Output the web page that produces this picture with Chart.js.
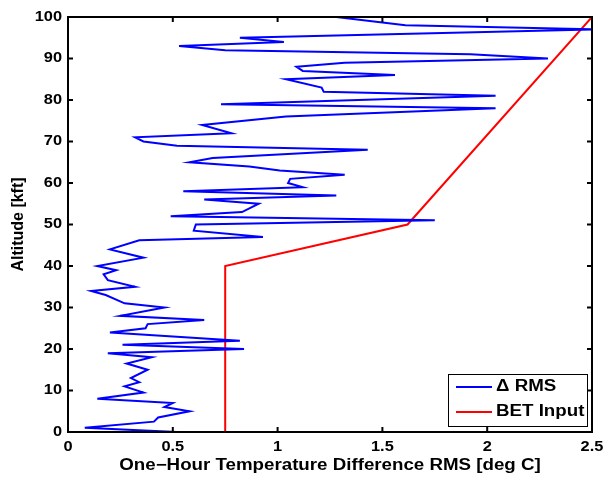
<!DOCTYPE html>
<html>
<head>
<meta charset="utf-8">
<script src="https://cdn.jsdelivr.net/npm/chart.js@4/dist/chart.umd.min.js"></script>
<style>
  html, body { margin: 0; padding: 0; background: #fff; }
  #wrap { width: 605px; height: 482px; }
</style>
</head>
<body>
<div id="wrap"><canvas id="rmsChart" width="605" height="482"></canvas></div>
<script>
// Delta RMS profile vs altitude
const rmsAlt = [0, 1, 2.5, 3.5, 5, 6, 7, 8, 9.5, 11, 12, 13, 15, 16.5, 18, 19, 20, 21, 22, 24,
  25, 26, 27, 28, 30, 31, 33, 34, 35, 36.6, 38, 39, 40, 42, 44, 46.2, 47, 48.5, 50, 51,
  52, 53, 55, 56, 57, 58, 59, 60, 61, 62, 63, 64, 65, 66, 68, 69, 70, 71, 72, 74,
  76, 78, 79, 81, 82, 83, 85, 86, 87, 88, 89, 90, 91, 92, 93, 94, 95, 97, 98, 100];
const rmsVal = [0.52, 0.08, 0.41, 0.43, 0.58, 0.46, 0.50, 0.14, 0.36, 0.27, 0.34, 0.30, 0.38, 0.28, 0.40, 0.19, 0.84, 0.26, 0.82, 0.20,
  0.37, 0.38, 0.65, 0.25, 0.46, 0.27, 0.18, 0.11, 0.32, 0.19, 0.17, 0.23, 0.14, 0.36, 0.20, 0.34, 0.93, 0.60, 0.61, 1.75,
  0.49, 0.83, 0.91, 0.65, 1.28, 0.55, 1.12, 1.05, 1.06, 1.32, 1.01, 0.865, 0.58, 0.69, 1.43, 0.52, 0.36, 0.32, 0.78, 0.64,
  1.04, 2.04, 0.73, 2.04, 1.22, 1.21, 1.04, 1.56, 1.12, 1.09, 1.32, 2.29, 1.92, 0.75, 0.53, 1.03, 0.82, 2.52, 1.61, 1.28];

// BET input profile
const betAlt = [0, 40, 50, 100];
const betVal = [0.75, 0.75, 1.62, 2.5];

const xTicks = [0, 0.5, 1, 1.5, 2, 2.5];
const yTicks = [0, 10, 20, 30, 40, 50, 60, 70, 80, 90, 100];
const xTitle = 'One\u2212Hour Temperature Difference RMS [deg C]';
const yTitle = 'Altitude [kft]';

const toPoints = (xs, ys) => xs.map((v, i) => ({ x: v, y: ys[i] }));

const FONT = '"Liberation Sans", Arial, Helvetica, sans-serif';
const WIDEN = 1.17; // text is drawn a little wider than the plain face

function wideText(ctx, text, x, y, align) {
  ctx.save();
  ctx.translate(x, y);
  ctx.scale(WIDEN, 1);
  ctx.textAlign = align;
  ctx.fillText(text, 0, 0);
  ctx.restore();
}

// box, inward ticks, tick labels, titles and legend
const frame = {
  id: 'frame',
  afterDatasetsDraw(chart) {
    const { ctx, chartArea: a, scales: { x, y } } = chart;
    ctx.save();
    ctx.strokeStyle = '#000';
    ctx.lineWidth = 2;
    ctx.strokeRect(a.left, a.top, a.width, a.height);
    ctx.beginPath();
    xTicks.forEach(v => {
      const px = x.getPixelForValue(v);
      ctx.moveTo(px, a.bottom); ctx.lineTo(px, a.bottom - 5);
      ctx.moveTo(px, a.top); ctx.lineTo(px, a.top + 5);
    });
    yTicks.forEach(v => {
      const py = y.getPixelForValue(v);
      ctx.moveTo(a.left, py); ctx.lineTo(a.left + 5, py);
      ctx.moveTo(a.right, py); ctx.lineTo(a.right - 5, py);
    });
    ctx.stroke();

    ctx.fillStyle = '#000';
    ctx.textBaseline = 'middle';
    ctx.font = 'bold 14px ' + FONT;
    xTicks.forEach(v => wideText(ctx, String(v), x.getPixelForValue(v), a.bottom + 15, 'center'));
    yTicks.forEach(v => wideText(ctx, String(v), a.left - 6, y.getPixelForValue(v), 'right'));

    ctx.font = 'bold 16px ' + FONT;
    wideText(ctx, xTitle, (a.left + a.right) / 2, a.bottom + 34, 'center');
    ctx.save();
    ctx.translate(19, (a.top + a.bottom) / 2);
    ctx.rotate(-Math.PI / 2);
    ctx.textAlign = 'center';
    ctx.fillText(yTitle, 0, 0);
    ctx.restore();

    // legend
    const w = 139, h = 52;
    const lx = a.right - 5 - w, ly = a.bottom - 6 - h;
    ctx.fillStyle = '#fff';
    ctx.fillRect(lx, ly, w, h);
    ctx.strokeStyle = '#000';
    ctx.lineWidth = 1;
    ctx.strokeRect(lx + 0.5, ly + 0.5, w, h);
    chart.data.datasets.forEach((ds, i) => {
      const cy = ly + 13 + i * 25;
      ctx.strokeStyle = ds.borderColor;
      ctx.lineWidth = 2;
      ctx.beginPath();
      ctx.moveTo(lx + 8, cy); ctx.lineTo(lx + 44, cy);
      ctx.stroke();
      ctx.fillStyle = '#000';
      wideText(ctx, ds.label, lx + 48, cy, 'left');
    });
    ctx.restore();
  }
};

new Chart(document.getElementById('rmsChart'), {
  type: 'scatter',
  data: {
    datasets: [
      {
        label: '\u0394 RMS',
        data: toPoints(rmsVal, rmsAlt),
        showLine: true,
        borderColor: '#0000ff',
        borderWidth: 2,
        pointRadius: 0,
        tension: 0
      },
      {
        label: 'BET Input',
        data: toPoints(betVal, betAlt),
        showLine: true,
        borderColor: '#ff0000',
        borderWidth: 2,
        pointRadius: 0,
        tension: 0
      }
    ]
  },
  options: {
    responsive: false,
    animation: false,
    layout: { padding: { left: 0, right: 13, top: 17, bottom: 0 } },
    plugins: {
      legend: { display: false },
      tooltip: { enabled: false }
    },
    scales: {
      x: {
        type: 'linear',
        min: 0,
        max: 2.5,
        border: { display: false },
        grid: { display: false },
        ticks: { display: false },
        afterFit: s => { s.height = 50; }
      },
      y: {
        type: 'linear',
        min: 0,
        max: 100,
        border: { display: false },
        grid: { display: false },
        ticks: { display: false },
        afterFit: s => { s.width = 68; }
      }
    }
  },
  plugins: [frame]
});
</script>
</body>
</html>
